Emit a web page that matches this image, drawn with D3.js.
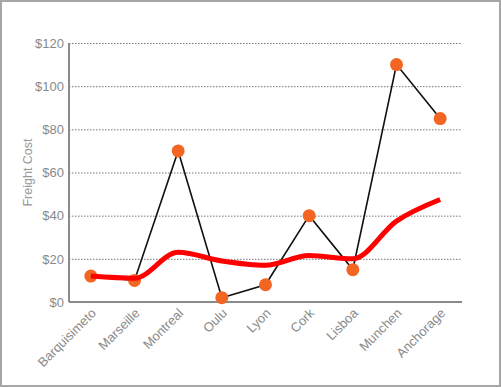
<!DOCTYPE html>
<html>
<head>
<meta charset="utf-8">
<script src="https://cdn.jsdelivr.net/npm/d3@7"></script>
<style>
  body { margin: 0; }
  svg { display: block; font-family: "Liberation Sans", Arial, sans-serif; }
</style>
</head>
<body>
<div id="chart"></div>
<script>
// data
var cities = ["Barquisimeto", "Marseille", "Montreal", "Oulu", "Lyon", "Cork", "Lisboa", "Munchen", "Anchorage"];
var freight = [12, 10, 70, 2, 8, 40, 15, 110, 85];
var trend = [12, 11, 23, 19, 17, 21.5, 20, 37.5, 47.5];
var yTicks = [0, 20, 40, 60, 80, 100, 120];

var W = 501, H = 387;
var margin = {top: 43, right: 39, bottom: 85, left: 69};
var width = W - margin.left - margin.right;
var height = H - margin.top - margin.bottom;

var svg = d3.select("#chart").append("svg")
	.attr("width", W)
	.attr("height", H);

// outer frame
svg.append("rect")
	.attr("x", 1).attr("y", 1)
	.attr("width", W - 2).attr("height", H - 2)
	.attr("fill", "#fff")
	.attr("stroke", "#a6a6a6")
	.attr("stroke-width", 2);

var g = svg.append("g")
	.attr("transform", "translate(" + margin.left + "," + margin.top + ")");

var x = d3.scaleBand().domain(cities).range([0, width]).padding(0);
var y = d3.scaleLinear().domain([0, 120]).range([height, 0]);

function cx(d, i) { return x(cities[i]) + x.bandwidth() / 2; }

// grid lines
g.selectAll(".grid")
	.data(yTicks.slice(1))
	.enter().append("line")
	.attr("class", "grid")
	.attr("x1", 0).attr("x2", width)
	.attr("y1", function(d) { return y(d) + 0.5; })
	.attr("y2", function(d) { return y(d) + 0.5; })
	.attr("stroke", "#777")
	.attr("stroke-width", 1)
	.attr("stroke-dasharray", "1.5,1.5");

// y axis
var yAxis = g.append("g")
	.call(d3.axisLeft(y).tickValues(yTicks).tickSize(0).tickPadding(5)
		.tickFormat(function(d) { return "$" + d; }));
yAxis.select(".domain").remove();
yAxis.selectAll("text")
	.attr("fill", "#8a8a8a")
	.style("font-size", "13px")
	.style("font-family", "Liberation Sans, Arial, sans-serif");

g.append("line")
	.attr("x1", 0).attr("x2", 0)
	.attr("y1", 0).attr("y2", height)
	.attr("stroke", "#8a8a8a").attr("stroke-width", 2);

// x axis
var xAxis = g.append("g")
	.attr("transform", "translate(0," + height + ")")
	.call(d3.axisBottom(x).tickSize(0).tickPadding(0));
xAxis.select(".domain").remove();
xAxis.selectAll("text")
	.attr("fill", "#8a8a8a")
	.style("font-size", "13px")
	.style("font-family", "Liberation Sans, Arial, sans-serif")
	.attr("text-anchor", "end")
	.attr("dy", null)
	.attr("transform", "translate(6,12) rotate(-45)");

g.append("line")
	.attr("x1", 0).attr("x2", width)
	.attr("y1", height).attr("y2", height)
	.attr("stroke", "#8a8a8a").attr("stroke-width", 2);

// y title
svg.append("text")
	.attr("transform", "translate(32," + (margin.top + height / 2) + ") rotate(-90)")
	.attr("text-anchor", "middle")
	.attr("fill", "#999")
	.style("font-size", "12.5px")
	.text("Freight Cost");

// black line
var line = d3.line()
	.x(cx)
	.y(function(d) { return y(d); });

g.append("path")
	.datum(freight)
	.attr("fill", "none")
	.attr("stroke", "#111")
	.attr("stroke-width", 1.6)
	.attr("d", line);

// dots
g.selectAll(".dot")
	.data(freight)
	.enter().append("circle")
	.attr("class", "dot")
	.attr("cx", cx)
	.attr("cy", function(d) { return y(d); })
	.attr("r", 6.5)
	.attr("fill", "#f26522");

// red trend
var curve = d3.line()
	.x(cx)
	.y(function(d) { return y(d); })
	.curve(d3.curveMonotoneX);

g.append("path")
	.datum(trend)
	.attr("fill", "none")
	.attr("stroke", "#ff0000")
	.attr("stroke-width", 5)
	.attr("d", curve);
</script>
</body>
</html>
